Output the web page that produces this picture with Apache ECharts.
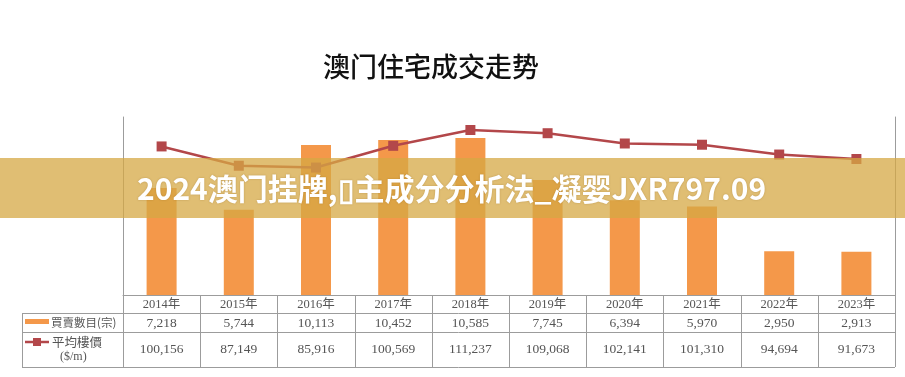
<!DOCTYPE html>
<html>
<head>
<meta charset="utf-8">
<script src="https://cdn.jsdelivr.net/npm/echarts@6/dist/echarts.min.js"></script>
<style>
html,body{margin:0;padding:0;background:#fff;}
#main{width:905px;height:377px;}
</style>
</head>
<body>
<div id="main"></div>
<script>
// ---- data ----
const titleText = '澳门住宅成交走势';
const bannerText = '2024澳门挂牌,\u25AF主成分分析法_凝婴JXR797.09';
const years = ['2014年','2015年','2016年','2017年','2018年','2019年','2020年','2021年','2022年','2023年'];
const deals = [7218, 5744, 10113, 10452, 10585, 7745, 6394, 5970, 2950, 2913];
const prices = [100156, 87149, 85916, 100569, 111237, 109068, 102141, 101310, 94694, 91673];
const dealLabel = '買賣數目(宗)';
const priceLabel = ['平均樓價', '($/m)'];

// ---- style / layout ----
const W = 905, H = 377;
const GL = 123, GR = 895, GT = 117, GB = 295;
const TL = 22, R1 = 313, R2 = 332, R3 = 367;
const BAR = '#F4984A', LINE = '#B3474A', GRID = '#9c9c9c', TXT = '#555';
const serif = '"Liberation Serif","DejaVu Serif","Noto Sans CJK SC",serif';

function fmt(v){ return v.toString().replace(/\B(?=(\d{3})+(?!\d))/g, ','); }

const n = years.length;
const colW = (GR - GL) / n;
const g = [];
function hline(y, x1, x2){ g.push({type:'line', z:50, shape:{x1:x1, y1:y+0.5, x2:x2, y2:y+0.5}, style:{stroke:GRID, lineWidth:1}}); }
function vline(x, y1, y2){ g.push({type:'line', z:50, shape:{x1:x+0.5, y1:y1, x2:x+0.5, y2:y2}, style:{stroke:GRID, lineWidth:1}}); }
function txt(x, y, s, align, size, fam){ g.push({type:'text', z:50, x:x, y:y, style:{text:s, fill:TXT, font:(size||12)+'px '+(fam||serif), textAlign:align||'center', textVerticalAlign:'middle'}}); }

hline(R1, TL, GR); hline(R2, TL, GR); hline(R3, TL, GR);
vline(TL, R1, R3); vline(GL, GB, R3); vline(GR, GB, R3);
for (let i = 1; i < n; i++) vline(Math.round(GL + i*colW), GB, R3);
for (let i = 0; i < n; i++) {
  const cx = GL + (i + 0.5) * colW;
  txt(cx, (GB + R1)/2 + 1, years[i], 'center', 12.5);
  txt(cx, (R1 + R2)/2 + 1, fmt(deals[i]), 'center', 13.5);
  txt(cx, (R2 + R3)/2, fmt(prices[i]), 'center', 13.5);
}
// legend swatches in table
g.push({type:'rect', z:50, shape:{x:25, y:319, width:24, height:5}, style:{fill:BAR}});
g.push({type:'line', z:50, shape:{x1:25, y1:342, x2:49, y2:342}, style:{stroke:LINE, lineWidth:2.5}});
g.push({type:'rect', z:51, shape:{x:33, y:338, width:8, height:8}, style:{fill:LINE}});
const cjk = '"Noto Sans CJK TC","Noto Sans CJK SC",sans-serif';
txt(51, 323, dealLabel, 'left', 11.5, cjk);
txt(52, 342, priceLabel[0], 'left', 12.5, cjk);
txt(60, 357, priceLabel[1], 'left', 12);

// banner overlay
g.push({type:'rect', z:200, shape:{x:0, y:158, width:W, height:60}, style:{fill:'rgba(214,168,68,0.75)'}});
g.push({type:'text', z:201, x:137, y:189, style:{text:bannerText, fill:'#fff', font:'bold 30px "Noto Sans CJK SC","Noto Sans",sans-serif', textAlign:'left', textVerticalAlign:'middle', textShadowColor:'rgba(120,80,20,0.35)', textShadowBlur:2}});

const chart = echarts.init(document.getElementById('main'));
chart.setOption({
  backgroundColor:'#fff',
  animation:false,
  title:{text:titleText, left:318, top:48, textStyle:{fontSize:27, fontWeight:500, color:'#111', fontFamily:'"Noto Sans CJK SC",sans-serif'}},
  grid:{left:GL, right:W-GR, top:GT, bottom:H-GB},
  xAxis:{type:'category', data:years, axisLine:{show:true, lineStyle:{color:GRID}}, axisTick:{show:false}, axisLabel:{show:false}},
  yAxis:[
    {type:'value', min:0, max:12000, axisLine:{show:true, lineStyle:{color:GRID}}, axisTick:{show:false}, axisLabel:{show:false}, splitLine:{show:false}},
    {type:'value', min:0, max:120000, position:'right', axisLine:{show:true, lineStyle:{color:GRID}}, axisTick:{show:false}, axisLabel:{show:false}, splitLine:{show:false}}
  ],
  series:[
    {type:'bar', data:deals, barWidth:30, itemStyle:{color:BAR}, yAxisIndex:0, z:2},
    {type:'line', data:prices, yAxisIndex:1, symbol:'rect', symbolSize:10, lineStyle:{color:LINE, width:2.5}, itemStyle:{color:LINE}, z:3}
  ],
  graphic:g
});
</script>
</body>
</html>
